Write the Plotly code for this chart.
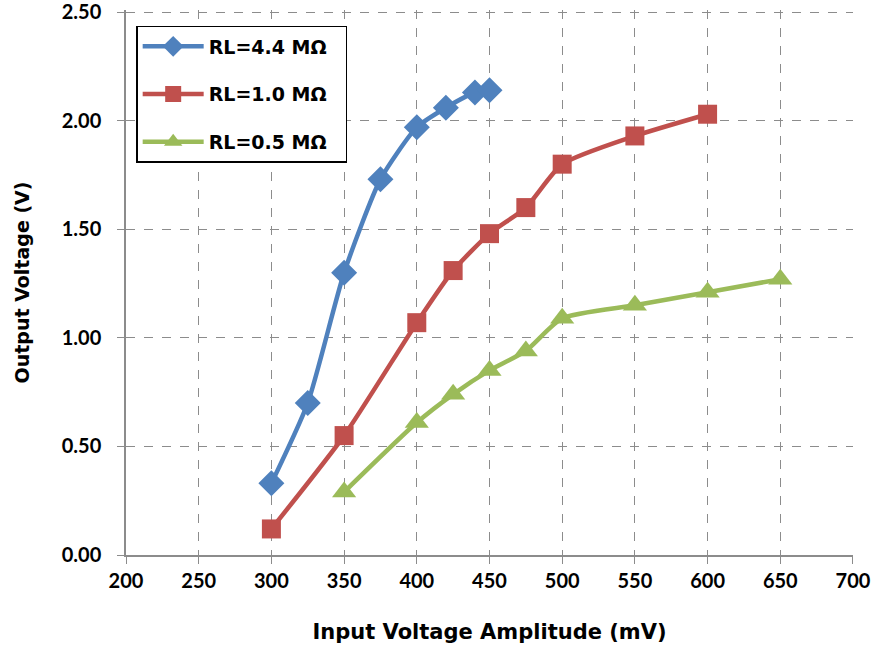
import plotly.graph_objects as go

x_44 = [300, 325, 350, 375, 400, 420, 440, 450]
y_44 = [0.33, 0.70, 1.30, 1.73, 1.97, 2.06, 2.13, 2.14]
x_10 = [300, 350, 400, 425, 450, 475, 500, 550, 600]
y_10 = [0.12, 0.55, 1.07, 1.31, 1.48, 1.60, 1.80, 1.93, 2.03]
x_05 = [350, 400, 425, 450, 475, 500, 550, 600, 650]
y_05 = [0.29, 0.61, 0.74, 0.85, 0.94, 1.09, 1.15, 1.21, 1.27]
names = ["RL=4.4 MΩ", "RL=1.0 MΩ", "RL=0.5 MΩ"]
colors = ["#4F81BD", "#C0504D", "#9BBB59"]
symbols = ["diamond", "square", "triangle-up"]
sizes = [20, 19, 21]
x_ticks = [200, 250, 300, 350, 400, 450, 500, 550, 600, 650, 700]
y_ticks = [0.0, 0.5, 1.0, 1.5, 2.0, 2.5]

TICKFONT = "Lato, 'Open Sans', sans-serif"
TITLEFONT = "'DejaVu Sans', sans-serif"
PAD = "\u00a0\u00a0"

fig = go.Figure()
for i, (xs, ys, n, c, s, sz) in enumerate(zip([x_44, x_10, x_05], [y_44, y_10, y_05],
                                               names, colors, symbols, sizes)):
    fig.add_trace(go.Scatter(
        x=xs, y=ys, name=n + PAD, mode="lines+markers", legendgroup=f"g{i}",
        line=dict(color=c, width=4.5, shape="spline", smoothing=0.6),
        marker=dict(symbol=s, size=sz, color=c),
    ))

common = dict(showgrid=True, gridcolor="#8C8C8C", griddash="dash", gridwidth=1,
              showline=True, linecolor="#8C8C8C", linewidth=1.5,
              ticks="outside", ticklen=7, tickcolor="#8C8C8C",
              tickfont=dict(family=TICKFONT, size=20, color="black", weight="bold"),
              zeroline=False, automargin=False, ticklabeloverflow="allow")

fig.update_layout(
    width=877, height=655,
    margin=dict(l=126, r=24, t=10, b=100),
    plot_bgcolor="white", paper_bgcolor="white",
    font=dict(family=TICKFONT, color="black"),
    xaxis=dict(range=[200, 700.01], tickvals=x_ticks,
               title=dict(text="Input Voltage Amplitude (mV)",
                          font=dict(family=TITLEFONT, size=21, weight="bold"), standoff=34),
               **common),
    yaxis=dict(range=[0, 2.51], tickvals=y_ticks, tickformat=".2f",
               ticklabelstandoff=12,
               title=dict(text="Output Voltage (V)",
                          font=dict(family=TITLEFONT, size=19, weight="bold"), standoff=27),
               **common),
    legend=dict(x=0.014, y=0.9707, xanchor="left", yanchor="top",
                bordercolor="black", borderwidth=1.5, bgcolor="white",
                font=dict(family=TITLEFONT, size=19, weight="bold"),
                tracegroupgap=20, itemwidth=61),
    showlegend=True,
)

fig.write_html("out.html", config={"displayModeBar": False},
               post_script="document.body.style.margin='0';")
